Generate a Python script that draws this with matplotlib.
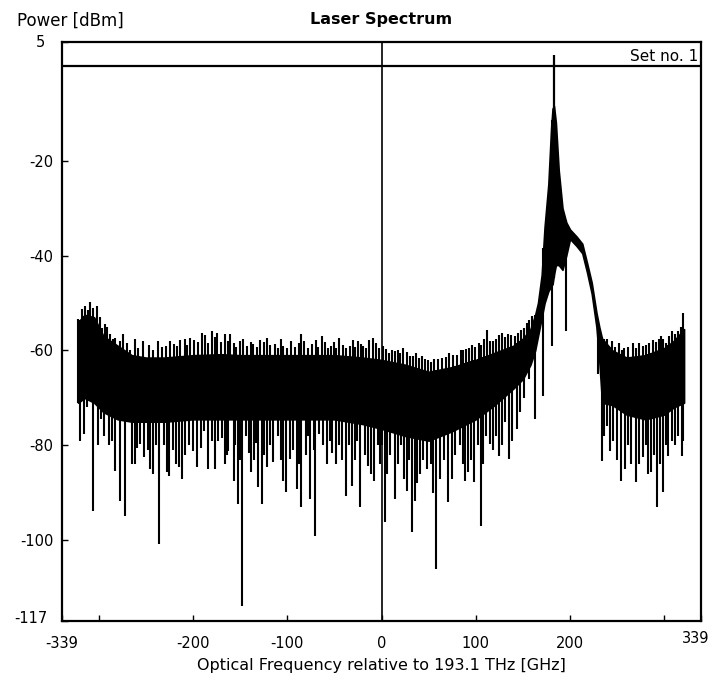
import matplotlib.pyplot as plt
import numpy as np

plt.rcParams['font.family'] = ['DejaVu Sans']
plt.rcParams['axes.unicode_minus'] = False

# core of the trace: frequency [GHz], upper / lower edge [dBm]
env_freq = [-322, -315, -305, -295, -280, -265, -250, -230, -200, -170, -150, -120,
            -100, -80, -50, -20, 0, 25, 50, 75, 100, 120, 140, 150, 158, 163, 166,
            170, 173, 177, 180, 181.5, 183, 185, 188, 192, 196, 200, 207, 213, 218,
            223, 228, 231, 234, 245, 260, 280, 300, 310, 321]
env_top = [-54, -52.5, -53, -57, -59, -61, -61.5, -61.5, -61, -60.8, -61, -61,
           -61, -61, -61, -61.5, -62, -63, -64.5, -63.5, -62, -60.5, -59, -57.5, -55.5, -52.5, -50,
           -44, -34, -25, -13, -9, -8.5, -12, -22, -30, -33, -34.5, -36, -37.5, -41.5,
           -45.7, -52, -55, -57.5, -60, -61.5, -61, -59.5, -58, -55.5]
env_bot = [-71, -70, -71, -73, -74.5, -75, -75, -75, -74.5, -74.5, -74.5, -74.5,
           -74.5, -74.5, -74.5, -75.5, -76.5, -78, -79, -77, -74.5, -71.5, -68, -66, -63, -60, -57,
           -53, -50, -47.5, -46.5, -46, -44, -42, -42, -43, -40, -36.5, -38, -39.5, -43.5,
           -48, -55, -62, -71, -71.5, -73.5, -74.5, -73.5, -72, -71]

# upward noise spikes (frequency, top)
up_freq = [-322, -320, -318, -314.6, -311, -309.3, -305.8, -302.2, -299, -296.9, -293.4,
           -291, -288, -285, -282.8, -278, -274, -270, -266.8, -262, -258, -252.7, -247,
           -242, -237, -233.2, -229, -224.4, -220, -217, -213.8, -209, -206, -203.2, -199,
           -195, -190.8, -187, -184, -180.2, -177, -174.9, -170, -166, -163,
           -160.7, -157, -154, -150.1, -147, -143, -139, -136, -132, -128.9, -125, -121.8,
           -118, -113, -110, -107, -104.2, -100, -96, -92, -88, -85.4, -82, -78, -73.4,
           -70, -67, -63.5, -60, -57, -53.6, -50, -48, -45.1, -41, -38, -33.4, -30, -28,
           -25.3, -22, -19.3, -16, -13, -9.4, -6, -3,
           1.9, 5, 8, 10.8, 14, 17, 20, 23.1, 27, 30, 33.7, 37, 40, 42.6, 46, 49, 53, 56,
           60.3, 64, 68.4, 72, 76, 80.4, 84, 86, 89.7, 93, 96, 99.2, 103, 106, 109, 112.3,
           115, 118.6, 122, 125, 127.5, 131, 134, 137, 141.6, 145, 148, 151, 154, 156,
           159.4,
           236, 239, 244.2, 248, 252, 255, 257.7, 262, 267.2, 270, 273, 277.8, 281, 284,
           288.4, 291, 294, 296.6, 299, 302, 305, 307.9, 311, 314.9, 318, 320.2]
up_top = [-53.3, -55, -51.2, -50.7, -51.5, -49.8, -51, -50.7, -53, -55.2, -54.5,
          -55, -56.6, -57.5, -57.3, -58, -56.6, -58.5, -59.8, -57.5, -59.5, -58, -58.8,
          -59.8, -58, -59.2, -59, -58, -58.6, -59, -57.7, -57.5, -58.8, -57.3, -57.8,
          -58.3, -56.3, -56.8, -58.5, -55.9, -57.2, -56.3, -58.3, -56.6, -57.9,
          -56.6, -58.4, -59.2, -58, -57.5, -59, -58.2, -58.7, -59.3, -57.7, -58.3, -57.3,
          -58.8, -58.7, -59.4, -57.6, -59.1, -59.4, -58.1, -59.2, -58.5, -56.6, -58, -59.4, -58.7,
          -57.8, -59.3, -57, -58.3, -59.5, -59.1, -58.3, -59.4, -57.3, -58.8, -59.5, -59.1, -57.8, -59.3,
          -58, -58.6, -59.1, -59.4, -57.8, -57.3, -58.5, -59.4,
          -59.1, -59.6, -60.5, -59.8, -60.2, -59.8, -60.6, -59.4, -60.3, -61.2, -61.2, -60.6, -61.5,
          -61.2, -61.8, -62, -62.4, -61.8,
          -61.9, -61.5, -61.3, -60.6, -60.9, -61, -60, -59.8, -59.6, -59.4, -58.8, -59.2, -58.4,
          -58.9, -57.5, -55.6,
          -57.9, -58, -57.5, -56.8, -56.3, -57.2, -56.5, -56.8, -57, -56.4, -55.6, -55.2, -54.2, -53.6,
          -52.8,
          -57.6, -57.5, -58, -59.2, -58.5, -59.8, -59.4, -59.2, -58.4, -59.5, -58.5, -59.1, -58.9,
          -58.5, -57.7, -58.3, -57.6, -57, -57.5, -58.5, -56.9, -55.9, -56.5, -55.9, -55, -52.1]

# downward noise spikes (frequency, bottom)
dn_freq = [-320, -316, -312, -305.8, -301, -298, -294, -289, -286, -282.8, -277.5,
           -272.2, -265, -262, -259, -256, -252, -248, -245.6, -242, -239, -235.7, -231,
           -228, -225, -221, -218, -215, -212, -208, -204, -199.7, -196, -192, -188,
           -183.8, -180, -177, -173.5, -169, -166, -164,
           -162.5, -157, -155, -152.6, -150, -147.7, -144, -141, -138.5, -135, -133,
           -130.7, -126.5, -125, -121.9, -118, -114.8, -110, -107, -104, -101.7, -97,
           -94, -90, -88, -85.4, -80, -78, -75.9, -72, -70.6, -66, -62, -58, -55, -52.9,
           -48.3, -45, -42, -38, -35, -31, -28, -26, -22.8, -18, -14, -11, -7.6, -4, -2,
           1, 3.7, 6, 9, 14.3, 18, 21, 24, 26.7, 29, 32, 35.5, 38, 40.8, 44, 48, 52, 55,
           57.8, 62, 66, 70.9, 75, 78, 83, 86, 89, 92, 95, 98.5, 102, 105.2, 108, 111,
           115, 118, 121, 125, 128, 131, 135.6, 138, 143.4, 147, 151, 154, 157, 162.9,
           171.7, 180.6, 195.4,
           230, 233.6, 236, 239, 242.4, 246, 250, 254, 258.4, 262, 265, 269.7, 273,
           277.8, 281, 283, 286, 289, 292.6, 296, 298.7, 302, 304.3, 308, 311, 315,
           318.5, 320]
dn_bot = [-79, -77.7, -72, -93.8, -80, -74.5, -78, -80, -79, -85.4, -91.7,
          -94.8, -84, -84, -80.5, -79.8, -82.5, -81, -85, -86, -80, -100.8, -80,
          -85.7, -86.5, -81, -84, -84.5, -87, -82, -80, -81.2, -84.5, -80.5, -77,
          -85, -79, -85, -79, -78.5, -84, -82,
          -81.2, -87.5, -80, -92.4, -83, -113.8, -78, -81.5, -85.7, -83, -79.5,
          -88.8, -92.4, -82, -84.6, -80, -83.6, -78, -83, -87.5, -89.9, -82.9,
          -81, -89.2, -84, -93, -82, -78, -91.3, -81, -99, -77.5, -80, -84, -79, -81.5,
          -84, -80, -83, -90.6, -80, -88.5, -83, -79, -93, -82, -84.3, -86, -87.5, -80, -84,
          -80, -96.2, -86, -82, -91.3, -84, -80, -87, -89.6, -83, -98.3, -91.7, -88, -86,
          -83, -85, -84, -90,
          -106, -87, -83, -92, -87, -82, -80, -84, -87.5, -85.7, -83, -87.8, -80, -97, -84, -78,
          -79.8, -81, -78, -82.2, -80, -75, -82.9, -79, -76.6, -73, -70, -64.6, -66, -74.5,
          -69.6, -59.1, -55.9,
          -65, -83.3, -78, -76, -81.2, -79, -83, -87.5, -85, -80, -84, -87.8, -84,
          -82.5, -80, -86, -85.7, -82, -93, -84, -89.9, -80, -82.2, -79, -80, -78,
          -82.2, -79]

# laser line
peak_freq = 182.5
peak_top = 2.3

x_ticks = [-339, -200, -100, 0, 100, 200, 339]
x_labels = ['-339', '-200', '-100', '0', '100', '200', '']
y_ticks = [5, -20, -40, -60, -80, -100, -117]
y_labels = ['', '-20', '-40', '-60', '-80', '-100', '']

fig = plt.figure(figsize=(7.17, 6.8), dpi=100)
ax = fig.add_axes([0.0865, 0.0868, 0.8912, 0.8514])

ax.fill_between(env_freq, env_bot, env_top, color='black', lw=1.2, edgecolor='black')
ax.vlines(up_freq, np.interp(up_freq, env_freq, env_bot), up_top, color='black', lw=1.5)
ax.vlines(dn_freq, dn_bot, np.interp(dn_freq, env_freq, env_top), color='black', lw=1.5)
ax.vlines([peak_freq], np.interp(peak_freq, env_freq, env_bot), peak_top, color='black', lw=1.6)

ax.axhline(0, color='black', lw=1.6)
ax.axvline(0, color='black', lw=1.2)

ax.set_xlim(-339, 339)
ax.set_ylim(-117, 5)
ax.set_xticks(x_ticks)
ax.set_xticklabels(x_labels)
ax.set_xticks([-300, 300], minor=True)
ax.set_yticks(y_ticks)
ax.set_yticklabels(y_labels)
ax.tick_params(direction='in', length=4, width=1, labelsize=10.5)
ax.tick_params(which='minor', direction='in', length=4, width=1)
ax.tick_params(axis='x', pad=11)
ax.tick_params(axis='y', pad=6)
for s in ax.spines.values():
    s.set_linewidth(1.6)

# end labels placed individually as in the original
ax.text(-0.027, 1.0, '5', ha='right', va='center', fontsize=10.5, transform=ax.transAxes)
ax.text(-0.022, 0.004, '-117', ha='right', va='center', fontsize=10.5, transform=ax.transAxes)
ax.text(0.991, -0.018, '339', ha='center', va='top', fontsize=10.5, transform=ax.transAxes)

ax.text(336, 0.4, 'Set no. 1', ha='right', va='bottom', fontsize=11)

fig.text(0.024, 0.969, 'Power [dBm]', ha='left', va='center', fontsize=12)
fig.text(0.532, 0.972, 'Laser Spectrum', ha='center', va='center', fontsize=11.5, fontweight='bold')
ax.set_xlabel('Optical Frequency relative to 193.1 THz [GHz]', fontsize=11.5, labelpad=5)

fig.savefig('out.png', dpi=100)
